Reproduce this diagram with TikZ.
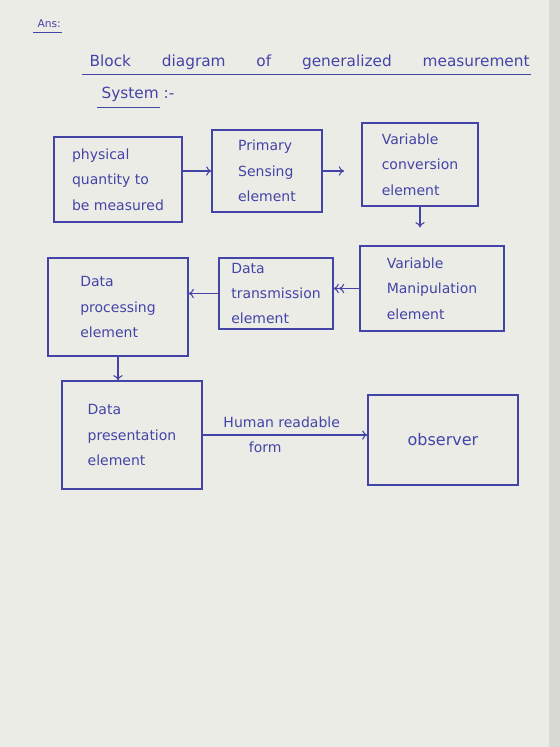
\documentclass[tikz,border=0pt]{standalone}
\usepackage{fontspec}
\setmainfont{DejaVu Sans}
\usepackage{xcolor}
\usetikzlibrary{positioning,arrows,arrows.meta,calc}
\definecolor{ink}{RGB}{68,68,168}
\definecolor{paper}{RGB}{236,236,230}

\begin{document}
\begin{tikzpicture}[
        x=0.75pt, y=-0.75pt,
        component/.style={
            rectangle,
            draw=ink,
            thick,
            text=ink,
            align=left,
            font=\fontsize{10.5}{19}\selectfont
        },
        script/.style={
            text=ink,
            inner sep=1pt,
            font=\fontsize{10.5}{14}\selectfont
        },
        flow/.style={draw=ink,thick,->,>={To[length=4pt,width=7pt]}}
    ]

    % sheet of paper
    \fill[paper] (0,0) rectangle (560,747);
    \fill[paper!92!black] (549,0) rectangle (560,747);
    \useasboundingbox (0,0) rectangle (560,747);

    % heading
    \node[script, anchor=west, font=\fontsize{8}{10}\selectfont] (ans) at (36,24) {Ans:};
    \draw[ink] ($(ans.south west)+(-3,3)$) -- ($(ans.south east)+(0,3)$);

    \node[script, anchor=west, text width=330pt,
          font=\fontsize{11.5}{14}\selectfont] (title) at (88,62)
        {Block\hfill diagram\hfill of\hfill generalized\hfill measurement};
    \draw[ink] ($(title.south west)+(-6,3)$) -- ($(title.south east)+(0,3)$);

    \node[script, anchor=west, font=\fontsize{11.5}{14}\selectfont] (system) at (100,94)
        {System :-};
    \draw[ink] (97,107) -- (160,107);

    % blocks
    \node[component, minimum width=96pt, minimum height=63.75pt] (physical) at (118,179.5)
        {physical\\quantity to\\be measured};

    \node[component, minimum width=82.5pt, minimum height=61.5pt] (sensing) at (267,171)
        {Primary\\Sensing\\element};

    \node[component, minimum width=87pt, minimum height=62.25pt] (conversion) at (420,164.5)
        {Variable\\conversion\\element};

    \node[component, minimum width=108pt, minimum height=63.75pt] (manipulation) at (432,288.5)
        {Variable\\Manipulation\\element};

    \node[component, minimum width=85.5pt, minimum height=53.25pt] (transmission) at (276,293.5)
        {Data\\transmission\\element};

    \node[component, minimum width=105pt, minimum height=73.5pt] (processing) at (118,307)
        {Data\\processing\\element};

    \node[component, minimum width=105pt, minimum height=81pt] (presentation) at (132,435)
        {Data\\presentation\\element};

    \node[component, minimum width=112.5pt, minimum height=67.5pt,
          font=\fontsize{12}{19}\selectfont] (observer) at (443,440)
        {observer};

    % connectors
    \draw[flow]
        (physical.east |- sensing.west) --
        (sensing.west);

    \draw[flow, shorten >=13pt]
        (sensing.east) --
        (sensing.east -| conversion.west);

    \draw[flow, shorten >=13.5pt]
        (conversion.south) --
        (conversion.south |- manipulation.north);

    \draw[draw=ink, thick, -{To[length=4pt,width=7pt]To[length=4pt,width=7pt]}]
        (manipulation.west) --
        (manipulation.west -| transmission.east);

    \draw[flow]
        (transmission.west) --
        (transmission.west -| processing.east);

    \draw[flow]
        (processing.south) --
        (processing.south |- presentation.north);

    \draw[flow]
        (presentation.east) --
        node[script, above=4pt, pos=0.48]{Human readable}
        node[script, below=4pt, pos=0.38]{form}
        (presentation.east -| observer.west);

    \end{tikzpicture}
\end{document}
